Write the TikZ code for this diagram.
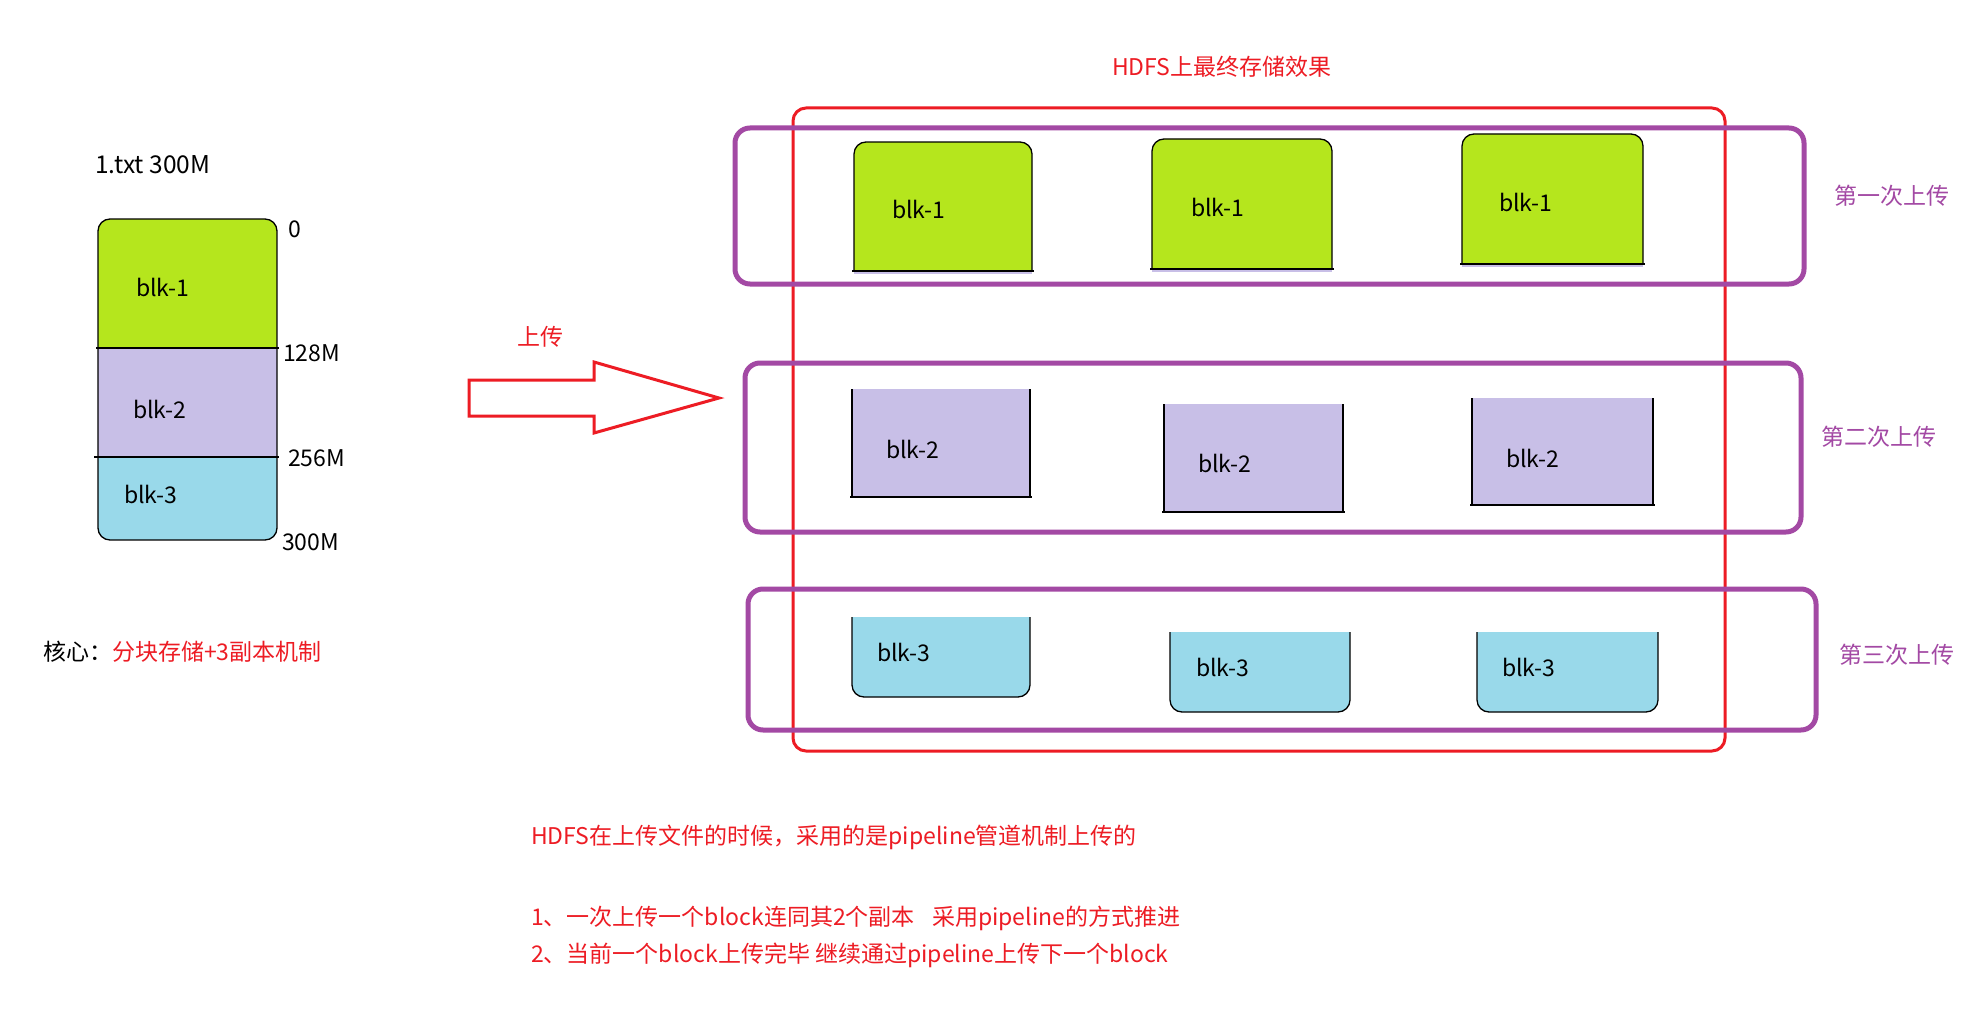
\documentclass[tikz,border=0pt]{standalone}
\usepackage{fontspec}
\setmainfont{Noto Sans CJK SC}
\definecolor{cgreen}{HTML}{B5E61D}
\definecolor{clav}{HTML}{C8BFE7}
\definecolor{cblue}{HTML}{99D9EA}
\definecolor{cred}{HTML}{ED1C24}
\definecolor{cpurple}{HTML}{A349A4}
\tikzset{
  txt/.style={anchor=west, inner sep=0pt, font=\fontsize{23}{28}\selectfont},
  redtxt/.style={txt, text=cred},
  ptxt/.style={txt, text=cpurple},
  groupbox/.style={draw=cpurple, line width=5pt, rounded corners=15pt},
  outerbox/.style={draw=cred, line width=3pt, rounded corners=13pt},
  edgeline/.style={draw=black, line width=1.3pt},
}
\newcommand\hdgreen[4]{%
  \fill[clav] (#1,#4) rectangle (#3,#4+3);
  \begin{scope}
    \clip (#1-3,#2-3) rectangle (#3+3,#4);
    \filldraw[fill=cgreen, edgeline, rounded corners=12pt] (#1,#2) rectangle (#3,#4+40);
  \end{scope}
  \draw[edgeline] (#1-2,#4) -- (#3+2,#4);
}
\newcommand\hdlav[4]{%
  \fill[clav] (#1,#2) rectangle (#3,#4);
  \draw[edgeline] (#1,#2) -- (#1,#4);
  \draw[edgeline] (#3,#2) -- (#3,#4);
  \draw[edgeline] (#1-2,#4) -- (#3+2,#4);
}
\newcommand\hdblue[4]{%
  \begin{scope}
    \clip (#1-3,#2) rectangle (#3+3,#4+3);
    \filldraw[fill=cblue, edgeline, rounded corners=12pt] (#1,#2-40) rectangle (#3,#4);
  \end{scope}
}
\begin{document}
\begin{tikzpicture}[x=1pt, y=-1pt]
\useasboundingbox[fill=white] (0,0) rectangle (1972,1014);

% ---- left file block ----
\node[txt, font=\fontsize{24.5}{28}\selectfont] (file) at (95,165) {1.txt 300M};
\begin{scope}
  \clip[rounded corners=12pt] (98,219) rectangle (277,540);
  \fill[cgreen] (98,219) rectangle (277,348);
  \fill[clav] (98,348) rectangle (277,457);
  \fill[cblue] (98,457) rectangle (277,540);
\end{scope}
\draw[edgeline, rounded corners=12pt] (98,219) rectangle (277,540);
\draw[edgeline] (96,348) -- (279,348);
\draw[edgeline] (94,457) -- (279,457);
\node[txt] (lb1) at (136,287) {blk-1};
\node[txt] (lb2) at (133,409) {blk-2};
\node[txt] (lb3) at (124,494) {blk-3};
\node[txt] (m0) at (288,229) {0};
\node[txt] (m128) at (283,353) {128M};
\node[txt] (m256) at (288,458) {256M};
\node[txt] (m300) at (282,542) {300M};

\node[txt] (core) at (43,652) {核心：\textcolor{cred}{分块存储+3副本机制}};

% ---- upload arrow ----
\node[redtxt] (up) at (517,337) {上传};
\draw[cred, line width=3pt, fill=white, line join=miter]
  (469,380) -- (594,380) -- (594,362) -- (719,398) -- (594,433) -- (594,416) -- (469,416) -- cycle;

% ---- HDFS storage ----
\node[redtxt] (title) at (1112,67) {HDFS上最终存储效果};

\hdgreen{854}{142}{1032}{271}
\hdgreen{1152}{139}{1332}{269}
\hdgreen{1462}{134}{1643}{264}
\node[txt] (g1) at (892,209) {blk-1};
\node[txt] (g2) at (1191,207) {blk-1};
\node[txt] (g3) at (1499,202) {blk-1};

\hdlav{852}{389}{1030}{497}
\hdlav{1164}{404}{1343}{512}
\hdlav{1472}{398}{1653}{505}
\node[txt] (l1) at (886,449) {blk-2};
\node[txt] (l2) at (1198,463) {blk-2};
\node[txt] (l3) at (1506,458) {blk-2};

\hdblue{852}{617}{1030}{697}
\hdblue{1170}{632}{1350}{712}
\hdblue{1477}{632}{1658}{712}
\node[txt] (b1) at (877,652) {blk-3};
\node[txt] (b2) at (1196,667) {blk-3};
\node[txt] (b3) at (1502,667) {blk-3};

\draw[outerbox] (793,108) rectangle (1725,751);
\draw[groupbox] (735,128) rectangle (1804,284);
\draw[groupbox] (745,363) rectangle (1801,532);
\draw[groupbox] (748,589) rectangle (1816,730);

\node[ptxt] (r1) at (1834,196) {第一次上传};
\node[ptxt] (r2) at (1821,437) {第二次上传};
\node[ptxt] (r3) at (1839,655) {第三次上传};

% ---- notes ----
\node[redtxt] (n1) at (531,837) {HDFS在上传文件的时候，采用的是pipeline管道机制上传的};
\node[redtxt] (n2) at (531,918) {1、一次上传一个block连同其2个副本\hspace{0.75em}采用pipeline的方式推进};
\node[redtxt] (n3) at (531,955) {2、当前一个block上传完毕 继续通过pipeline上传下一个block};
\end{tikzpicture}
\end{document}
